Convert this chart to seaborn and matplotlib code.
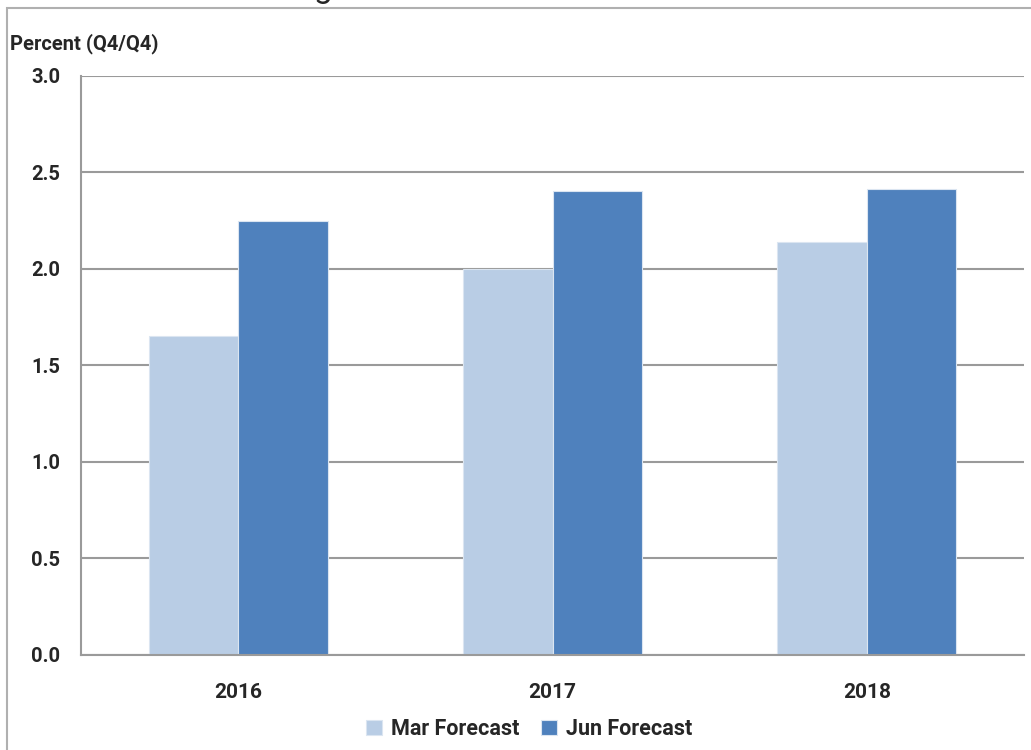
import pandas as pd
import numpy as np
import matplotlib.pyplot as plt
import seaborn as sns
from matplotlib.patches import Rectangle


# chart values
years = ["2016", "2017", "2018"]
mar_forecast = [1.65, 2.0, 2.14]
jun_forecast = [2.245, 2.40, 2.41]
series_names = ["Mar Forecast", "Jun Forecast"]
y_ticks = [0.0, 0.5, 1.0, 1.5, 2.0, 2.5, 3.0]

df = pd.DataFrame({
    "year": years * 2,
    "value": mar_forecast + jun_forecast,
    "forecast": [series_names[0]] * len(years) + [series_names[1]] * len(years),
})

sns.set_style("white")
plt.rcParams["font.family"] = ["Roboto", "DejaVu Sans"]
plt.rcParams["font.weight"] = "bold"

grid_col = "#9a9a9a"

fig = plt.figure(figsize=(10.31, 7.5), dpi=100)
ax = fig.add_axes([0.0786, 0.1267, 0.9146, 0.7726])

sns.barplot(data=df, x="year", y="value", hue="forecast",
            palette=["#B9CDE5", "#4F81BD"], width=0.57, saturation=1,
            edgecolor="#dbe5f1", linewidth=0.8, ax=ax)

ax.set_ylim(0, 3.0)
ax.set_xlim(-0.5, 2.5)
ax.set_yticks(y_ticks)
ax.set_yticklabels([f"{t:.1f}" for t in y_ticks], fontsize=14.5, fontweight="bold")
ax.set_xticks(range(len(years)))
ax.set_xticklabels(years, fontsize=15, fontweight="bold")
ax.set_xticks(np.arange(-0.5, len(years), 1.0), minor=True)
ax.tick_params(axis="x", which="major", length=0, pad=20)
ax.tick_params(axis="x", which="minor", length=6, color=grid_col, width=1.2, direction="out")
ax.tick_params(axis="y", length=7, color=grid_col, width=1.5, direction="out", pad=8)
ax.set_xlabel("")
ax.set_ylabel("")

ax.yaxis.grid(True, color=grid_col, linewidth=1.5)
ax.set_axisbelow(True)
for side in ["top", "right"]:
    ax.spines[side].set_visible(False)
for side in ["left", "bottom"]:
    ax.spines[side].set_color(grid_col)
    ax.spines[side].set_linewidth(1.5)

handles, labels = ax.get_legend_handles_labels()
ax.get_legend().remove()
fig.legend(handles, labels, loc="center", bbox_to_anchor=(529 / 1031, 1 - 729 / 750),
           ncol=2, frameon=False, handlelength=0.75, handleheight=0.75,
           handletextpad=0.4, columnspacing=1.0, prop={"weight": "bold", "size": 15.5})

fig.text(10 / 1031, 1 - 44 / 750, "Percent (Q4/Q4)", fontsize=14.5, fontweight="bold",
         ha="left", va="center")

# cropped title at the very top, only its descender shows
fig.text(313 / 1031, 1.004, "g", fontsize=24, fontweight="normal", ha="left", va="baseline")

# outer chart frame (top and left edges visible)
fig.add_artist(Rectangle((7 / 1031, -0.1), 1.2, 1.1 - 8 / 750, transform=fig.transFigure,
                         fill=False, edgecolor="#b0b0b0", linewidth=1.5))

plt.savefig("out.png", dpi=100)
